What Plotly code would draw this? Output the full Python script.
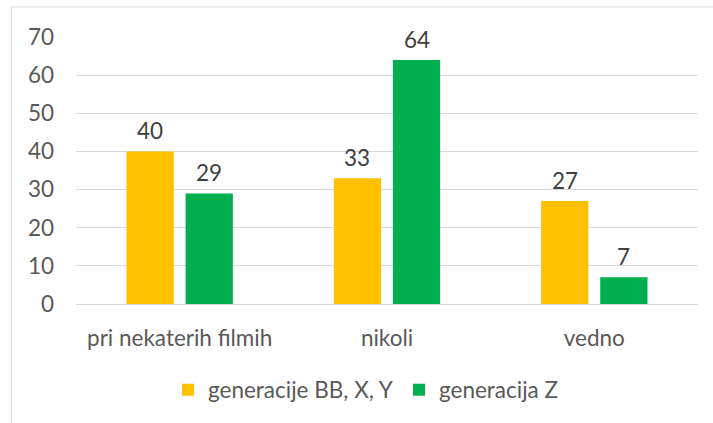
import plotly.graph_objects as go

categories = ["pri nekaterih filmih", "nikoli", "vedno"]
series_names = ["generacije BB, X, Y", "generacija Z"]
values_bbxy = [40, 33, 27]
values_z = [29, 64, 7]
colors = ["#FFC000", "#00B050"]
y_ticks = [0, 10, 20, 30, 40, 50, 60, 70]

FONT = "Lato"
FS = 22.5

W, H = 713, 423
ML, MR, MT, MB = 76, 15, 37, 119
BARGAP = 0.43
plot_w = W - ML - MR
plot_h = H - MT - MB
slot_px = plot_w / len(categories) * (1 - BARGAP) / 2

fig = go.Figure()
all_vals = [values_bbxy, values_z]
for i, (name, vals) in enumerate(zip(series_names, all_vals)):
    fig.add_trace(go.Bar(
        x=categories, y=vals, name=name,
        marker=dict(color=colors[i], line=dict(width=0)),
    ))
    for c, v in zip(categories, vals):
        fig.add_annotation(
            x=c, y=v, xref="x", yref="y", text=str(v), showarrow=False,
            xshift=(i - 0.5) * slot_px, yshift=5, yanchor="bottom",
            font=dict(family=FONT, size=FS, color="#404040"),
        )

# outer chart frame
fig.add_shape(type="rect", xref="paper", yref="paper",
              x0=(11.5 - ML) / plot_w, x1=1.2,
              y0=-0.6, y1=1 + (MT - 7) / plot_h,
              line=dict(color="#D9D9D9", width=1), fillcolor="rgba(0,0,0,0)", layer="below")

fig.update_layout(
    width=W, height=H,
    margin=dict(l=ML, r=MR, t=MT, b=MB, autoexpand=False),
    paper_bgcolor="white", plot_bgcolor="white",
    barmode="group", bargap=BARGAP, bargroupgap=0.2,
    font=dict(family=FONT, size=FS, color="#595959"),
    showlegend=True,
    legend=dict(orientation="h", x=(168 - ML) / plot_w, xanchor="left",
                y=(MT + plot_h - 390) / plot_h, yanchor="middle",
                entrywidth=186,
                font=dict(family=FONT, size=FS, color="#595959"),
                bgcolor="rgba(0,0,0,0)"),
    xaxis=dict(showgrid=False, showline=False, zeroline=False, ticks="",
               tickfont=dict(family=FONT, size=FS, color="#595959"),
               ticklabelstandoff=18),
    yaxis=dict(range=[0, 70], tickvals=y_ticks, showgrid=True, gridcolor="#D9D9D9",
               gridwidth=1, zeroline=True, zerolinecolor="#D9D9D9", zerolinewidth=1,
               showline=False, ticks="", ticklabelstandoff=21,
               tickfont=dict(family=FONT, size=FS, color="#595959")),
)

fig.write_html("out.html", config={"displayModeBar": False},
               post_script="document.body.style.margin='0px';")
